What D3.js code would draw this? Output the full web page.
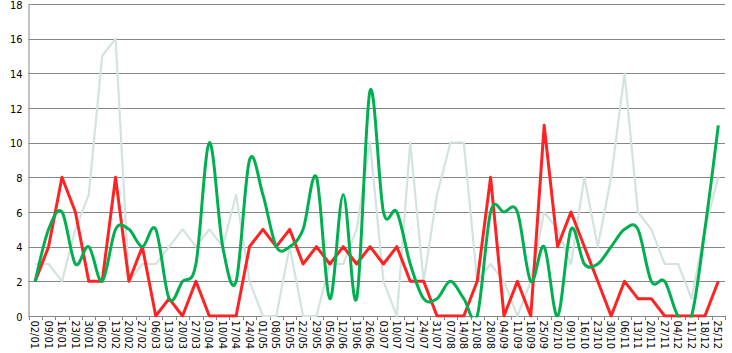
<!DOCTYPE html>
<html>
<head>
<meta charset="utf-8">
<script src="https://cdn.jsdelivr.net/npm/d3@7"></script>
<style>
    body { margin: 0; background: #fff; }
    .grafik text { font-family: "DejaVu Sans Condensed", "DejaVu Sans", sans-serif; fill: #000; }
</style>
</head>
<body>
<div class="grafik"></div>
<script>
const dates = ['02/01', '09/01', '16/01', '23/01', '30/01', '06/02', '13/02', '20/02', '27/02',
    '06/03', '13/03', '20/03', '27/03', '03/04', '10/04', '17/04', '24/04', '01/05', '08/05',
    '15/05', '22/05', '29/05', '05/06', '12/06', '19/06', '26/06', '03/07', '10/07', '17/07',
    '24/07', '31/07', '07/08', '14/08', '21/08', '28/08', '04/09', '11/09', '18/09', '25/09',
    '02/10', '09/10', '16/10', '23/10', '30/10', '06/11', '13/11', '20/11', '27/11', '04/12',
    '11/12', '18/12', '25/12'];

const redValues = [2, 4, 8, 6, 2, 2, 8, 2, 4, 0, 1, 0, 2, 0, 0, 0, 4, 5, 4, 5, 3, 4, 3, 4, 3, 4,
    3, 4, 2, 2, 0, 0, 0, 2, 8, 0, 2, 0, 11, 4, 6, 4, 2, 0, 2, 1, 1, 0, 0, 0, 0, 2];

const greenValues = [2, 5, 6, 3, 4, 2, 5, 5, 4, 5, 1, 2, 3, 10, 4, 2, 9, 7, 4, 4, 5, 8, 1, 7, 1, 13,
    6, 6, 3, 1, 1, 2, 1, 0, 6, 6, 6, 2, 4, 0, 5, 3, 3, 4, 5, 5, 2, 2, 0, 0, 5, 11];

const greyValues = [3, 3, 2, 5, 7, 15, 16, 2, 3, 3, 4, 5, 4, 5, 4, 7, 2, 0, 0, 4, 0, 0, 3, 3, 5, 10,
    2, 0, 10, 2, 7, 10, 10, 2, 3, 2, 0, 2, 6, 5, 3, 8, 4, 8, 14, 6, 5, 3, 3, 1, 5, 8];

const yTicks = [0, 2, 4, 6, 8, 10, 12, 14, 16, 18];

const width = 732;
const height = 353;
const plot = { left: 28.5, right: 725, top: 4, bottom: 316 };

const svg = d3.select('.grafik')
    .append('svg')
    .attr('width', width)
    .attr('height', height);

const x = d3.scaleBand()
    .domain(dates)
    .range([plot.left, plot.right])
    .paddingInner(0)
    .paddingOuter(0);

const y = d3.scaleLinear()
    .domain([0, 18])
    .range([plot.bottom, plot.top]);

const cx = d => x(d) + x.bandwidth() / 2;

// область построения (линии не выходят ниже нуля)
svg.append('clipPath')
    .attr('id', 'plotClip')
    .append('rect')
    .attr('x', plot.left)
    .attr('y', 0)
    .attr('width', plot.right - plot.left)
    .attr('height', plot.bottom + 1.5);

// сетка
svg.append('g')
    .selectAll('line')
    .data(yTicks)
    .enter().append('line')
    .attr('x1', plot.left)
    .attr('x2', plot.right)
    .attr('y1', d => Math.round(y(d)) + 0.5)
    .attr('y2', d => Math.round(y(d)) + 0.5)
    .attr('stroke', '#868686')
    .attr('stroke-width', 1);

// ось Y
const yAxis = svg.append('g')
    .attr('transform', `translate(${plot.left}, 0.5)`)
    .call(d3.axisLeft(y).tickValues(yTicks).tickSize(0).tickPadding(6));
yAxis.select('.domain').attr('stroke', '#868686');
yAxis.selectAll('text').style('font-size', '11px');

// ось X
const xAxis = svg.append('g')
    .attr('transform', `translate(0, ${Math.round(plot.bottom) + 0.5})`)
    .call(d3.axisBottom(x).tickSize(0));
xAxis.select('.domain').remove();
xAxis.selectAll('text')
    .attr('transform', 'rotate(90)')
    .attr('x', 4)
    .attr('y', 0)
    .attr('dy', '0.35em')
    .style('text-anchor', 'start')
    .style('font-size', '11px');

svg.append('g')
    .selectAll('line')
    .data(dates.concat(['end']))
    .enter().append('line')
    .attr('x1', (d, i) => Math.round(plot.left + i * x.bandwidth()) + 0.5)
    .attr('x2', (d, i) => Math.round(plot.left + i * x.bandwidth()) + 0.5)
    .attr('y1', plot.bottom)
    .attr('y2', plot.bottom + 4)
    .attr('stroke', '#868686');

// линии
const series = [
    { values: greyValues, color: '#d3e3e0', width: 2.2, curve: d3.curveLinear },
    { values: redValues, color: '#ff2222', width: 3, curve: d3.curveLinear },
    { values: greenValues, color: '#00b050', width: 3, curve: d3.curveCardinal.tension(0) }
];

const linesGroup = svg.append('g')
    .attr('clip-path', 'url(#plotClip)');

series.forEach(s => {
    const line = d3.line()
        .x((d, i) => cx(dates[i]))
        .y(d => y(d))
        .curve(s.curve);

    linesGroup.append('path')
        .datum(s.values)
        .attr('d', line)
        .attr('fill', 'none')
        .attr('stroke', s.color)
        .attr('stroke-width', s.width)
        .attr('stroke-linejoin', 'round');
});
</script>
</body>
</html>
